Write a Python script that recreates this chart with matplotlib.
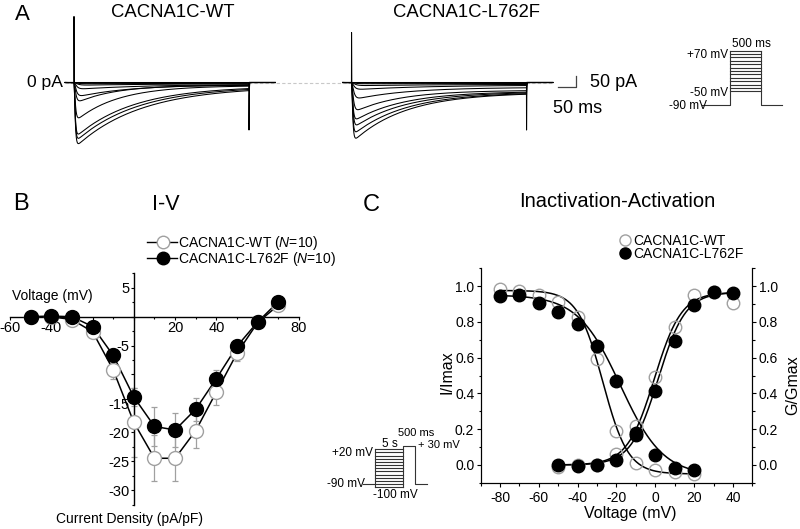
import numpy as np
import matplotlib
matplotlib.use("Agg")
import matplotlib.pyplot as plt
from matplotlib.ticker import FixedLocator, MultipleLocator, FixedFormatter

plt.rcParams['font.family'] = ['Liberation Sans', 'DejaVu Sans']
plt.rcParams['mathtext.fontset'] = 'custom'
plt.rcParams['mathtext.rm'] = 'Liberation Sans'
plt.rcParams['mathtext.it'] = 'Liberation Sans:italic'

# ---------------- data ----------------
# Panel A: example current traces (pA); one entry per test step
wt_peak = [300, 275, 255, 182, 98, 69, 32, 13, 6, 3, 0]
wt_late = [18, 17, 16, 14, 12, 10, 8, 5, 3, 1, 0]
wt_tau_inact = [185, 175, 165, 120, 110, 150, 200, 250, 300, 300, 300]
wt_tau_act = [2.5, 2.5, 2.5, 3, 4, 5, 6, 8, 8, 8, 8]
mut_peak = [275, 243, 212, 182, 140, 80, 34, 15, 6, 2, 0]
mut_late = [45, 44, 42, 40, 35, 22, 12, 8, 4, 2, 0]
mut_tau_inact = [150, 150, 145, 140, 130, 150, 200, 250, 300, 300, 300]
mut_tau_act = [2.5, 2.5, 3, 3, 4, 5, 6, 8, 8, 8, 8]
pulse_ms = 500
cap_on_pA = 300
cap_off_pA = 216
mut_cap_on_pA = 227
scalebar_ms = 50
scalebar_pA = 50

# Panel A protocol
protoA_hold = -90
protoA_steps = list(range(-50, 71, 10))

# Panel B: I-V
iv_voltage = [-50, -40, -30, -20, -10, 0, 10, 20, 30, 40, 50, 60, 70]
iv_wt = [0.0, 0.0, -0.5, -2.6, -9.2, -18.3, -24.5, -24.5, -19.7, -13.0, -6.3, -1.0, 2.0]
iv_wt_err = [0.2, 0.2, 0.4, 0.6, 1.5, 6.0, 4.0, 4.0, 3.0, 2.3, 1.3, 0.6, 0.6]
iv_mut = [0.0, 0.1, 0.0, -1.7, -6.7, -13.9, -19.0, -19.6, -16.0, -10.7, -5.1, -0.9, 2.6]
iv_mut_err = [0.2, 0.2, 0.3, 0.5, 1.0, 1.5, 3.4, 3.0, 2.0, 1.5, 1.0, 0.5, 0.4]
iv_xticks = [-60, -40, -20, 0, 20, 40, 60, 80]
iv_xticklabels = ['-60', '-40', '', '', '20', '40', '', '80']
iv_yticks = [5, 0, -5, -10, -15, -20, -25, -30]
iv_yticklabels = ['5', '', '-5', '', '-15', '-20', '-25', '-30']

# Panel C: inactivation / activation
inact_v = [-80, -70, -60, -50, -40, -30, -20, -10, 0, 10, 20]
inact_wt = [0.985, 0.97, 0.95, 0.91, 0.825, 0.59, 0.19, 0.01, -0.03, -0.04, -0.05]
inact_mut = [0.945, 0.95, 0.905, 0.855, 0.79, 0.665, 0.47, 0.18, 0.056, -0.015, -0.03]
act_v = [-50, -40, -30, -20, -10, 0, 10, 20, 30, 40]
act_wt = [-0.01, 0.0, 0.0, 0.06, 0.22, 0.49, 0.77, 0.95, 0.965, 0.907]
act_mut = [0.0, -0.005, 0.0, 0.028, 0.165, 0.415, 0.695, 0.894, 0.968, 0.96]
# Boltzmann fit parameters (top, bottom, V1/2, k)
fit_inact_wt = (0.975, -0.05, -27.0, 6.5)
fit_inact_mut = (0.95, -0.06, -18.0, 11.0)
fit_act_wt = (0.965, 0.0, -0.5, 7.0)
fit_act_mut = (0.965, 0.0, 1.5, 7.0)

# Panel C protocol
protoC_hold = -90
protoC_steps = list(range(-100, 21, 10))
protoC_test = 30

# ---------------- figure helpers ----------------
W, H = 800, 529
fig = plt.figure(figsize=(W / 100, H / 100), dpi=100)


def px_axes(x0, y0, x1, y1, **kw):
    return fig.add_axes([x0 / W, 1 - y1 / H, (x1 - x0) / W, (y1 - y0) / H], **kw)


def ftext(x, y, s, **kw):
    kw.setdefault('va', 'baseline')
    return fig.text(x / W, 1 - y / H, s, **kw)


# ---------------- Panel A ----------------
A_X0, A_X1, A_Y0, A_Y1 = 55, 665, 5, 150
T0_PX, PX_PER_MS, ZERO_PX, PX_PER_PA = 74.0, 0.35, 82.5, 0.22
MUT_OFFSET = 793
axA = px_axes(A_X0, A_Y0, A_X1, A_Y1)
axA.set_xlim((A_X0 - T0_PX) / PX_PER_MS, (A_X1 - T0_PX) / PX_PER_MS)
axA.set_ylim(-(A_Y1 - ZERO_PX) / PX_PER_PA, (ZERO_PX - A_Y0) / PX_PER_PA)
axA.axis('off')

t = np.arange(-25, 575, 0.25)
tp = np.clip(t, 0, None)


def make_trace(peak, late, tau_i, tau_a, cap_on, cap_off):
    act = (1 - np.exp(-tp / tau_a)) ** 2
    inact = late + (peak - late) * np.exp(-tp / tau_i)
    cur = np.where((t >= 0) & (t < pulse_ms), -act * inact, 0.0)
    cur = cur + np.where(t >= 0, cap_on * np.exp(-tp / 0.35), 0.0)
    toff = np.clip(t - pulse_ms, 0, None)
    cur = cur + np.where(t >= pulse_ms, -cap_off * np.exp(-toff / 0.6), 0.0)
    return cur


# zero line (dashed)
axA.plot([-25, MUT_OFFSET + 575], [0, 0], color='#c8c8c8', lw=0.8,
         dashes=(3, 2), zorder=1)
for i, (pk, lt, ti, ta) in enumerate(zip(wt_peak, wt_late, wt_tau_inact, wt_tau_act)):
    con = cap_on_pA if i == 0 else 0.0
    coff = cap_off_pA if i == 0 else 0.0
    axA.plot(t, make_trace(pk, lt, ti, ta, con, coff),
             color='black', lw=0.75, zorder=2)
for i, (pk, lt, ti, ta) in enumerate(zip(mut_peak, mut_late, mut_tau_inact, mut_tau_act)):
    con = mut_cap_on_pA if i == 0 else 0.0
    coff = cap_off_pA if i == 0 else 0.0
    axA.plot(t + MUT_OFFSET, make_trace(pk, lt, ti, ta, con, coff),
             color='black', lw=0.75, zorder=2)

# scale bar
sb_t1 = 1434
sb_y0 = -20
axA.plot([sb_t1 - scalebar_ms, sb_t1, sb_t1], [sb_y0, sb_y0, sb_y0 + scalebar_pA],
         color='#444444', lw=0.9)

ftext(15, 19.5, 'A', fontsize=16)
ftext(173, 16.7, 'CACNA1C-WT', fontsize=13.3, ha='center')
ftext(467, 16.7, 'CACNA1C-L762F', fontsize=13.3, ha='center')
ftext(63, 86.5, '0 pA', fontsize=12.6, ha='right')
ftext(590, 87.3, '50 pA', fontsize=13, ha='left')
ftext(553, 112.7, '50 ms', fontsize=13, ha='left')

# Panel A protocol inset (x: schematic px offset, y: mV)
IA_X0, IA_X1, IA_Y0, IA_Y1 = 660, 795, 35, 115
IA_V0_PX, IA_PX_PER_MV = 105.0, (105.0 - 50.7) / 160
axIA = px_axes(IA_X0, IA_Y0, IA_X1, IA_Y1)
axIA.set_xlim(IA_X0, IA_X1)
axIA.set_ylim(protoA_hold - (IA_Y1 - IA_V0_PX) / IA_PX_PER_MV,
              protoA_hold + (IA_V0_PX - IA_Y0) / IA_PX_PER_MV)
axIA.axis('off')
pa_l, pa_r = 730.0, 760.7
top_a = max(protoA_steps)
axIA.plot([701.7, pa_l, pa_l], [protoA_hold, protoA_hold, top_a], color='#333333', lw=0.8)
axIA.plot([pa_r, pa_r, 781.7], [top_a, protoA_hold, protoA_hold], color='#333333', lw=0.8)
for v in protoA_steps:
    axIA.plot([pa_l, pa_r], [v, v], color='#333333', lw=0.8)
ftext(728, 58.3, '+70 mV', fontsize=8.5, ha='right')
ftext(728, 96, '-50 mV', fontsize=8.5, ha='right')
ftext(707, 109.3, '-90 mV', fontsize=8.5, ha='right')
ftext(731.7, 47.3, '500 ms', fontsize=8.5, ha='left')

# ---------------- Panel B ----------------
axB = px_axes(10, 273.35, 299, 504.5)
axB.set_xlim(-60, 80)
axB.set_ylim(-32.5, 7.5)
for s in ['top', 'right']:
    axB.spines[s].set_visible(False)
axB.spines['left'].set_position(('data', 0))
axB.spines['bottom'].set_position(('data', 0))
for s in ['left', 'bottom']:
    axB.spines[s].set_linewidth(1.0)
axB.xaxis.set_major_locator(FixedLocator(iv_xticks))
axB.xaxis.set_major_formatter(FixedFormatter(iv_xticklabels))
axB.xaxis.set_minor_locator(MultipleLocator(10))
axB.yaxis.set_major_locator(FixedLocator(iv_yticks))
axB.yaxis.set_major_formatter(FixedFormatter(iv_yticklabels))
axB.yaxis.set_minor_locator(MultipleLocator(2.5))
axB.tick_params(which='major', direction='out', length=2.5, width=0.8, pad=0.5, labelsize=10.5)
axB.tick_params(which='minor', direction='out', length=1.5, width=0.8)

axB.errorbar(iv_voltage, iv_wt, yerr=iv_wt_err, fmt='none', ecolor='#a0a0a0',
             elinewidth=0.9, capsize=2.5, capthick=0.9, zorder=2)
axB.errorbar(iv_voltage, iv_mut, yerr=iv_mut_err, fmt='none', ecolor='#a0a0a0',
             elinewidth=0.9, capsize=2.5, capthick=0.9, zorder=2)
axB.plot(iv_voltage, iv_wt, '-', color='black', lw=1.1, zorder=3)
axB.plot(iv_voltage, iv_mut, '-', color='black', lw=1.1, zorder=3)
axB.plot(iv_voltage, iv_wt, 'o', ms=10, mfc='white', mec='#a0a0a0', mew=1.0, zorder=4)
axB.plot(iv_voltage, iv_mut, 'o', ms=10, mfc='black', mec='black', zorder=5)

# legend keys (figure pixel coordinates)
axL = px_axes(0, 0, W, H)
axL.set_xlim(0, W)
axL.set_ylim(H, 0)
axL.axis('off')
axL.patch.set_visible(False)
axL.plot([147, 177], [241.7, 241.7], color='black', lw=1.0)
axL.plot([163.3], [241.7], 'o', ms=9, mfc='white', mec='#a0a0a0', mew=1.0)
axL.plot([147, 177], [258.3, 258.3], color='black', lw=1.0)
axL.plot([163.3], [258.3], 'o', ms=9, mfc='black', mec='black')
ftext(178, 246.7, 'CACNA1C-WT ($N$=10)', fontsize=10)
ftext(178, 263.3, 'CACNA1C-L762F ($N$=10)', fontsize=10)
axL.plot([625], [240], 'o', ms=8, mfc='none', mec='#a0a0a0', mew=1.0)
axL.plot([625], [252.5], 'o', ms=8, mfc='black', mec='black')
ftext(633, 245, 'CACNA1C-WT', fontsize=10)
ftext(633, 258.3, 'CACNA1C-L762F', fontsize=10)

ftext(13, 210.5, 'B', fontsize=17)
ftext(166, 210, 'I-V', fontsize=15.5, ha='center')
ftext(12, 300, 'Voltage (mV)', fontsize=10)
ftext(129, 523, 'Current Density (pA/pF)', fontsize=10, ha='center')

# ---------------- Panel C ----------------
axC = px_axes(480.6, 268.1, 752.4, 482.9)
axC.set_xlim(-90, 50)
axC.set_ylim(-0.1, 1.1)
axC.spines['top'].set_visible(False)
axC.xaxis.set_major_locator(MultipleLocator(20))
axC.xaxis.set_minor_locator(MultipleLocator(10))
axC.yaxis.set_major_locator(MultipleLocator(0.2))
axC.yaxis.set_minor_locator(MultipleLocator(0.1))
axC.xaxis.set_major_formatter(plt.FuncFormatter(lambda v, p: f'{v:.0f}'))
axC.yaxis.set_major_formatter(plt.FuncFormatter(lambda v, p: f'{v:.1f}' if v > -0.05 else ''))
axC.tick_params(which='major', direction='out', length=3, width=0.8, labelsize=10)
axC.tick_params(axis='y', pad=1.5)
axC.tick_params(axis='x', pad=2.5)
axC.tick_params(which='minor', direction='out', length=1.8, width=0.8)
axR = axC.twinx()
axR.set_ylim(-0.1, 1.1)
axR.spines['top'].set_visible(False)
axR.yaxis.set_major_locator(MultipleLocator(0.2))
axR.yaxis.set_minor_locator(MultipleLocator(0.1))
axR.yaxis.set_major_formatter(plt.FuncFormatter(lambda v, p: f'{v:.1f}' if v > -0.05 else ''))
axR.tick_params(which='major', direction='out', length=3, width=0.8, labelsize=10, pad=1.5)
axR.tick_params(which='minor', direction='out', length=1.8, width=0.8)


def boltz_inact(v, p):
    top, bot, vh, k = p
    return bot + (top - bot) / (1 + np.exp((v - vh) / k))


def boltz_act(v, p):
    top, bot, vh, k = p
    return bot + (top - bot) / (1 + np.exp((vh - v) / k))


vi = np.linspace(min(inact_v), max(inact_v), 300)
va = np.linspace(min(act_v), max(act_v), 300)
for p in (fit_inact_wt, fit_inact_mut):
    axC.plot(vi, boltz_inact(vi, p), color='black', lw=1.1, zorder=2)
for p in (fit_act_wt, fit_act_mut):
    axC.plot(va, boltz_act(va, p), color='black', lw=1.1, zorder=2)
axC.plot(inact_v, inact_wt, 'o', ms=9, mfc='none', mec='#a0a0a0', mew=1.0, zorder=3)
axC.plot(act_v, act_wt, 'o', ms=9, mfc='none', mec='#a0a0a0', mew=1.0, zorder=3)
axC.plot(inact_v, inact_mut, 'o', ms=9, mfc='black', mec='black', zorder=4)
axC.plot(act_v, act_mut, 'o', ms=9, mfc='black', mec='black', zorder=4)

ftext(371, 210.7, 'C', fontsize=17, ha='center')
ftext(617, 206.5, 'Inactivation-Activation', fontsize=14.5, ha='center')
fig.text(447 / W, 1 - 372 / H, 'I/Imax', fontsize=11.5, rotation=90, ha='center', va='center')
fig.text(793 / W, 1 - 385 / H, 'G/Gmax', fontsize=11.5, rotation=90, ha='center', va='center')
ftext(630, 518, 'Voltage (mV)', fontsize=11.5, ha='center')

# Panel C protocol inset (x: schematic px, y: mV)
IC_X0, IC_X1, IC_Y0, IC_Y1 = 330, 440, 425, 505
IC_V0_PX, IC_PX_PER_MV = 484.0, (484.0 - 449.3) / 110
axIC = px_axes(IC_X0, IC_Y0, IC_X1, IC_Y1)
axIC.set_xlim(IC_X0, IC_X1)
axIC.set_ylim(protoC_hold - (IC_Y1 - IC_V0_PX) / IC_PX_PER_MV,
              protoC_hold + (IC_V0_PX - IC_Y0) / IC_PX_PER_MV)
axIC.axis('off')
bl, br, tr, pend = 375.0, 403.3, 415.0, 426.7
vmin_c, vmax_c = min(protoC_steps), max(protoC_steps)
kc = dict(color='#333333', lw=0.8)
axIC.plot([363.3, bl], [protoC_hold, protoC_hold], **kc)
axIC.plot([bl, bl], [vmin_c, vmax_c], **kc)
for v in protoC_steps:
    axIC.plot([bl, br], [v, v], **kc)
axIC.plot([br, br, tr, tr, pend], [vmin_c, protoC_test, protoC_test, protoC_hold, protoC_hold], **kc)
ftext(373.3, 456, '+20 mV', fontsize=8.5, ha='right')
ftext(390, 446.7, '5 s', fontsize=8.5, ha='center')
ftext(398, 435.5, '500 ms', fontsize=8, ha='left')
ftext(418, 447.5, '+ 30 mV', fontsize=8, ha='left')
ftext(395, 498.3, '-100 mV', fontsize=8.5, ha='center')
ftext(365, 486.7, '-90 mV', fontsize=8.5, ha='right')

fig.savefig('out.png', dpi=100)
